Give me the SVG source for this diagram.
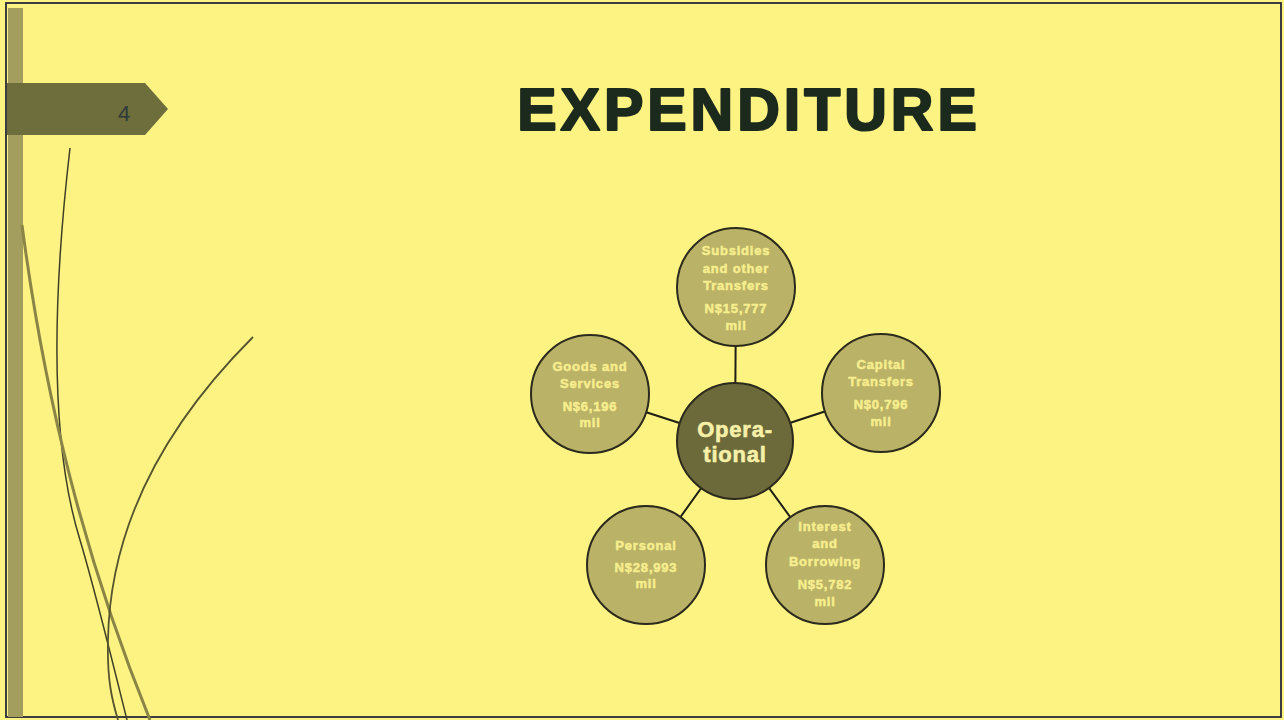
<svg xmlns="http://www.w3.org/2000/svg" width="1284" height="720" viewBox="0 0 1284 720">
<defs>
<style>
.sat{fill:#bab266;stroke:#2b2a1c;stroke-width:2}
.ctr{fill:#6c6a3b;stroke:#2b2a1c;stroke-width:2}
.st{font-family:"Liberation Sans",Arial,sans-serif;font-weight:bold;font-size:13px;fill:#f6ee8e;stroke:#f6ee8e;stroke-width:0.5;text-anchor:middle;letter-spacing:0.8px}
.ct{font-family:"Liberation Sans",Arial,sans-serif;font-weight:bold;font-size:22px;fill:#f6f0a8;stroke:#f6f0a8;stroke-width:0.6;text-anchor:middle;letter-spacing:0.8px}
.conn{stroke:#1e1e14;stroke-width:2;fill:none}
</style>
</defs>
<rect x="0" y="0" width="1284" height="720" fill="#fcf383"/>
<rect x="6" y="3" width="1275" height="714" fill="none" stroke="#27283a" stroke-width="1.8"/>
<rect x="8" y="8" width="15" height="709" fill="#a39e5e"/>
<g id="decor" fill="none">
<path d="M70,148 C50,320 52,450 80,540 C95,590 112,660 127,720" stroke="#3f3f26" stroke-width="1.5"/>
<path d="M22,225 C45,400 85,560 150,720" stroke="#8a8546" stroke-width="3"/>
<path d="M253,337 C170,420 110,520 108,640 C107,680 112,700 118,720" stroke="#55542e" stroke-width="1.8"/>
</g>
<g id="tab">
<polygon points="7,83 145,83 168,109 145,135 7,135" fill="#6e6d3c"/>
<text x="124" y="121" font-family="Liberation Sans,Arial,sans-serif" font-size="22" fill="#2c3a3a" text-anchor="middle">4</text>
</g>
<text x="749" y="130" font-family="Liberation Sans,Arial,sans-serif" font-weight="bold" font-size="59" fill="#1b2a1c" stroke="#1b2a1c" stroke-width="2.2" stroke-linejoin="round" text-anchor="middle" letter-spacing="4">EXPENDITURE</text>
<g id="connectors">
<line class="conn" x1="735" y1="441" x2="736" y2="287"/>
<line class="conn" x1="735" y1="441" x2="590" y2="394"/>
<line class="conn" x1="735" y1="441" x2="881" y2="393"/>
<line class="conn" x1="735" y1="441" x2="646" y2="565"/>
<line class="conn" x1="735" y1="441" x2="825" y2="565"/>
</g>
<g id="subsidies">
<circle class="sat" cx="736" cy="287" r="59"/>
<text class="st" x="736" y="255">Subsidies</text>
<text class="st" x="736" y="273">and other</text>
<text class="st" x="736" y="290">Transfers</text>
<text class="st" x="736" y="313">N$15,777</text>
<text class="st" x="736" y="330">mil</text>
</g>
<g id="goods">
<circle class="sat" cx="590" cy="394" r="59"/>
<text class="st" x="590" y="371">Goods and</text>
<text class="st" x="590" y="388">Services</text>
<text class="st" x="590" y="411">N$6,196</text>
<text class="st" x="590" y="427">mil</text>
</g>
<g id="capital">
<circle class="sat" cx="881" cy="393" r="59"/>
<text class="st" x="881" y="369">Capital</text>
<text class="st" x="881" y="386">Transfers</text>
<text class="st" x="881" y="409">N$0,796</text>
<text class="st" x="881" y="426">mil</text>
</g>
<g id="personal">
<circle class="sat" cx="646" cy="565" r="59"/>
<text class="st" x="646" y="550">Personal</text>
<text class="st" x="646" y="572">N$28,993</text>
<text class="st" x="646" y="588">mil</text>
</g>
<g id="interest">
<circle class="sat" cx="825" cy="565" r="59"/>
<text class="st" x="825" y="531">Interest</text>
<text class="st" x="825" y="548">and</text>
<text class="st" x="825" y="566">Borrowing</text>
<text class="st" x="825" y="589">N$5,782</text>
<text class="st" x="825" y="606">mil</text>
</g>
<g id="operational">
<circle class="ctr" cx="735" cy="441" r="58"/>
<text class="ct" x="735" y="437">Opera-</text>
<text class="ct" x="735" y="462">tional</text>
</g>
</svg>
